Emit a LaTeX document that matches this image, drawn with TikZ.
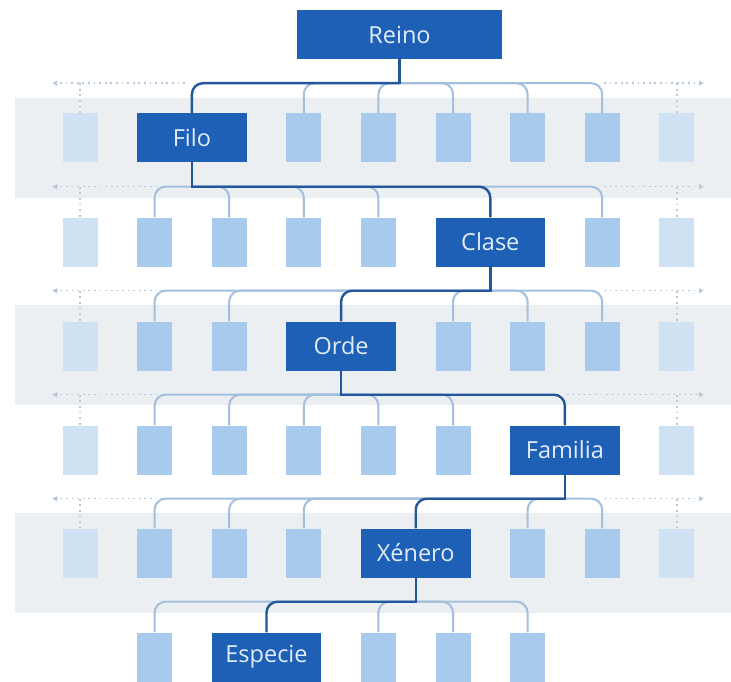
\documentclass[tikz,border=0pt]{standalone}
\usepackage{fontspec}
\setmainfont{Open Sans}
\usetikzlibrary{arrows.meta,calc}
\definecolor{tDark}{RGB}{30,96,182}
\definecolor{tLine}{RGB}{36,86,156}
\definecolor{tLeaf}{RGB}{168,202,236}
\definecolor{tFade}{RGB}{207,226,243}
\definecolor{tTwig}{RGB}{163,191,220}
\definecolor{tBand}{RGB}{236,239,241}
\definecolor{tHint}{RGB}{184,201,220}
\definecolor{tText}{RGB}{226,236,249}

\begin{document}
\begin{tikzpicture}[
    x=1pt, y=-1pt,
    rank/.style ={rectangle, fill=tDark, inner sep=0pt,
                  minimum width=109.6pt, minimum height=49pt,
                  text=tText, font=\fontsize{23.5}{28}\selectfont},
    leaf/.style ={rectangle, fill=tLeaf, inner sep=0pt,
                  minimum width=35pt, minimum height=49pt},
    fade/.style ={leaf, fill=tFade},
    trunk/.style={draw=tLine, line width=2.4pt, rounded corners=11pt},
    twig/.style ={draw=tTwig, line width=2pt, rounded corners=11pt},
    hint/.style ={draw=tHint, line width=1.4pt, dash pattern=on 1.8pt off 3.8pt},
    tip/.style  ={hint, -{Latex[length=5pt,width=6pt]}}
]
\useasboundingbox (0,0) rectangle (731,682);
\fill[white] (0,0) rectangle (731,682);

% grey bands behind every other rank
\foreach \y in {98,305,513}
  \fill[tBand] (15,\y) rectangle (731,\y+100);

% taxon ranks
\node[rank, minimum width=205pt] (reino) at (399.5,34.5) {Reino};
\node[rank] (filo)    at (191.9,138) {Filo};
\node[rank] (clase)   at (490.3,242) {Clase};
\node[rank] (orde)    at (341.1,346) {Orde};
\node[rank] (familia) at (564.9,450) {Familia};
\node[rank] (xenero)  at (415.7,553) {Xénero};
\node[rank] (especie) at (266.5,657) {Especie};

% sibling groups in each row
\foreach \r/\y/\cols in {1/138/{3,4,5,6,7}, 2/242/{1,2,3,4,7}, 3/346/{1,2,5,6,7},
                         4/450/{1,2,3,4,5}, 5/553/{1,2,3,6,7}, 6/657/{1,4,5,6}}
  \foreach \c in \cols
    \node[leaf] (b\r-\c) at ({80+74.6*\c},\y) {};

% faded ones at both ends
\foreach \r/\y in {1/138, 2/242, 3/346, 4/450, 5/553} {
  \node[fade] (f\r-0) at (80,\y) {};
  \node[fade] (f\r-8) at (676.8,\y) {};
}

% branching points under each rank
\foreach \p/\j in {reino/j1, filo/j2, clase/j3, orde/j4, familia/j5, xenero/j6}
  \coordinate (\j) at ($(\p.south)+(0,24)$);

% dotted hints that the rows go on
\foreach \r/\a/\b in {1/185/604, 2/163/604, 3/163/604, 4/163/567, 5/163/604} {
  \draw[tip] (\a,0 |- j\r) -- (52,0 |- j\r);
  \draw[tip] (\b,0 |- j\r) -- (704,0 |- j\r);
  \draw[hint] (f\r-0.north |- j\r) -- (f\r-0.north);
  \draw[hint] (f\r-8.north |- j\r) -- (f\r-8.north);
}

% light branches
\foreach \c in {3,...,7}   \draw[twig] (j1) -| (b1-\c.north);
\foreach \c in {1,2,3,4,7} \draw[twig] (j2) -| (b2-\c.north);
\foreach \c in {1,2,5,6,7} \draw[twig] (j3) -| (b3-\c.north);
\foreach \c in {1,...,5}   \draw[twig] (j4) -| (b4-\c.north);
\foreach \c in {1,2,3,6,7} \draw[twig] (j5) -| (b5-\c.north);
\foreach \c in {1,4,5,6}   \draw[twig] (j6) -| (b6-\c.north);

% the path down to the species
\foreach \p/\j/\c in {reino/j1/filo, filo/j2/clase, clase/j3/orde,
                      orde/j4/familia, familia/j5/xenero, xenero/j6/especie} {
  \draw[trunk, line cap=rect] (\p.south) -- (\j);
  \draw[trunk] (\j) -| (\c.north);
}
\end{tikzpicture}
\end{document}
